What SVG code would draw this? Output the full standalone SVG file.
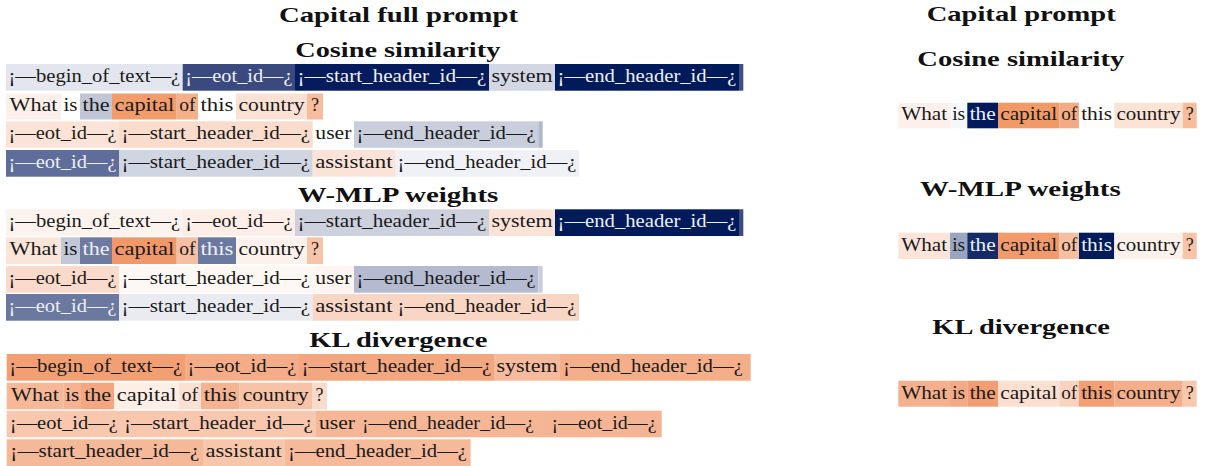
<svg xmlns="http://www.w3.org/2000/svg" width="1206" height="466" viewBox="0 0 1206 466">
<style>
text{font-family:'Liberation Serif',serif;font-size:18px;fill:#1a1a1a;text-anchor:middle}
text.d{fill:#eef0f6}
text.h{font-weight:bold;font-size:22px;text-anchor:start;fill:#111}
</style>
<rect width="1206" height="466" fill="#ffffff"/>
<g id="titles">
<text class="h" x="279" y="21.5" textLength="239" lengthAdjust="spacingAndGlyphs">Capital full prompt</text>
<text class="h" x="295.3" y="57.3" textLength="205" lengthAdjust="spacingAndGlyphs">Cosine similarity</text>
<text class="h" x="297.7" y="201.7" textLength="200.6" lengthAdjust="spacingAndGlyphs">W-MLP weights</text>
<text class="h" x="309.3" y="346.7" textLength="178" lengthAdjust="spacingAndGlyphs">KL divergence</text>
<text class="h" x="926.7" y="20.7" textLength="189" lengthAdjust="spacingAndGlyphs">Capital prompt</text>
<text class="h" x="917.3" y="65.7" textLength="207" lengthAdjust="spacingAndGlyphs">Cosine similarity</text>
<text class="h" x="920" y="196" textLength="200.7" lengthAdjust="spacingAndGlyphs">W-MLP weights</text>
<text class="h" x="932.3" y="334" textLength="177.7" lengthAdjust="spacingAndGlyphs">KL divergence</text>
</g>

<g id="cos-full">
<g id="c1-begin"><rect x="6" y="64" width="176.7" height="26.7" fill="#e3e6ee"/><text x="94.35" y="82" textLength="171.7" lengthAdjust="spacingAndGlyphs">¡—begin_of_text—¿</text></g>
<g id="c1-eot"><rect x="182.7" y="64" width="112.3" height="26.7" fill="#3a4a7e"/><text class="d" x="238.85" y="82" textLength="107.3" lengthAdjust="spacingAndGlyphs">¡—eot_id—¿</text></g>
<g id="c1-sh"><rect x="295" y="64" width="194" height="26.7" fill="#051b5c"/><text class="d" x="392" y="82" textLength="189" lengthAdjust="spacingAndGlyphs">¡—start_header_id—¿</text></g>
<g id="c1-sys"><rect x="489" y="64" width="66" height="26.7" fill="#d3d7e3"/><text x="522" y="82" textLength="61" lengthAdjust="spacingAndGlyphs">system</text></g>
<g id="c1-eh"><rect x="555" y="64" width="184" height="26.7" fill="#001a5a"/><text class="d" x="647" y="82" textLength="179" lengthAdjust="spacingAndGlyphs">¡—end_header_id—¿</text></g>
<g id="c1-nl"><rect x="739" y="64" width="4.3" height="26.7" fill="#3f4f85"/></g>

<g id="c2-what"><rect x="6" y="93.5" width="55" height="26" fill="#fdf0ea"/><text x="33.5" y="111.3" textLength="48" lengthAdjust="spacingAndGlyphs">What</text></g>
<g id="c2-is"><text x="70.5" y="111.3" textLength="14" lengthAdjust="spacingAndGlyphs">is</text></g>
<g id="c2-the"><rect x="80" y="93.5" width="32" height="26" fill="#c0c6d6"/><text x="96" y="111.3" textLength="27" lengthAdjust="spacingAndGlyphs">the</text></g>
<g id="c2-capital"><rect x="112" y="93.5" width="64.7" height="26" fill="#f09c6c"/><text x="144.35" y="111.3" textLength="59.7" lengthAdjust="spacingAndGlyphs">capital</text></g>
<g id="c2-of"><rect x="176.7" y="93.5" width="21.3" height="26" fill="#f5b08a"/><text x="187.35" y="111.3" textLength="16.3" lengthAdjust="spacingAndGlyphs">of</text></g>
<g id="c2-this"><text x="217" y="111.3" textLength="33" lengthAdjust="spacingAndGlyphs">this</text></g>
<g id="c2-country"><rect x="236" y="93.5" width="71" height="26" fill="#fbe2d5"/><text x="271.5" y="111.3" textLength="66" lengthAdjust="spacingAndGlyphs">country</text></g>
<g id="c2-q"><rect x="307" y="93.5" width="16" height="26" fill="#f6bc9d"/><text x="315" y="111.3">?</text></g>

<g id="c3-eot"><rect x="6" y="121.3" width="113" height="26.5" fill="#fbe3d7"/><text x="62.5" y="139.3" textLength="108" lengthAdjust="spacingAndGlyphs">¡—eot_id—¿</text></g>
<g id="c3-sh"><rect x="119" y="121.3" width="193.7" height="26.5" fill="#fadccc"/><text x="215.85" y="139.3" textLength="188.7" lengthAdjust="spacingAndGlyphs">¡—start_header_id—¿</text></g>
<g id="c3-user"><text x="333.35" y="139.3" textLength="36" lengthAdjust="spacingAndGlyphs">user</text></g>
<g id="c3-eh"><rect x="354" y="121.3" width="184.3" height="26.5" fill="#c9cedc"/><text x="446.15" y="139.3" textLength="179.3" lengthAdjust="spacingAndGlyphs">¡—end_header_id—¿</text></g>
<g id="c3-nl"><rect x="538.3" y="121.3" width="4.4" height="26.5" fill="#b0b8cc"/></g>

<g id="c4-eot"><rect x="6" y="150" width="113" height="26.7" fill="#5e6d99"/><text class="d" x="62.5" y="168" textLength="108" lengthAdjust="spacingAndGlyphs">¡—eot_id—¿</text></g>
<g id="c4-sh"><rect x="119" y="150" width="193.7" height="26.7" fill="#d0d5e2"/><text x="215.85" y="168" textLength="188.7" lengthAdjust="spacingAndGlyphs">¡—start_header_id—¿</text></g>
<g id="c4-asst"><rect x="312.7" y="150" width="82.3" height="26.7" fill="#fbe3d7"/><text x="353.85" y="168" textLength="77.3" lengthAdjust="spacingAndGlyphs">assistant</text></g>
<g id="c4-eh"><rect x="395" y="150" width="184" height="26.7" fill="#f0f1f6"/><text x="487" y="168" textLength="179" lengthAdjust="spacingAndGlyphs">¡—end_header_id—¿</text></g>
</g>

<g id="wmlp-full">
<g id="w1-begin"><rect x="6" y="209.3" width="176.7" height="26.7" fill="#fdf3ee"/><text x="94.35" y="227.3" textLength="171.7" lengthAdjust="spacingAndGlyphs">¡—begin_of_text—¿</text></g>
<g id="w1-eot"><rect x="182.7" y="209.3" width="112.3" height="26.7" fill="#fdefe8"/><text x="238.85" y="227.3" textLength="107.3" lengthAdjust="spacingAndGlyphs">¡—eot_id—¿</text></g>
<g id="w1-sh"><rect x="295" y="209.3" width="194" height="26.7" fill="#cdd1de"/><text x="392" y="227.3" textLength="189" lengthAdjust="spacingAndGlyphs">¡—start_header_id—¿</text></g>
<g id="w1-sys"><rect x="489" y="209.3" width="66" height="26.7" fill="#fbe3d7"/><text x="522" y="227.3" textLength="61" lengthAdjust="spacingAndGlyphs">system</text></g>
<g id="w1-eh"><rect x="555" y="209.3" width="184" height="26.7" fill="#001a5a"/><text class="d" x="647" y="227.3" textLength="179" lengthAdjust="spacingAndGlyphs">¡—end_header_id—¿</text></g>
<g id="w1-nl"><rect x="739" y="209.3" width="4.3" height="26.7" fill="#3b4a80"/></g>

<g id="w2-what"><rect x="6" y="237.3" width="55" height="26.7" fill="#fbe5da"/><text x="33.5" y="255.3" textLength="48" lengthAdjust="spacingAndGlyphs">What</text></g>
<g id="w2-is"><rect x="61" y="237.3" width="19" height="26.7" fill="#c2c8d8"/><text x="70.5" y="255.3" textLength="14" lengthAdjust="spacingAndGlyphs">is</text></g>
<g id="w2-the"><rect x="80" y="237.3" width="32" height="26.7" fill="#6e7aa0"/><text class="d" x="96" y="255.3" textLength="27" lengthAdjust="spacingAndGlyphs">the</text></g>
<g id="w2-capital"><rect x="112" y="237.3" width="64.7" height="26.7" fill="#f0986a"/><text x="144.35" y="255.3" textLength="59.7" lengthAdjust="spacingAndGlyphs">capital</text></g>
<g id="w2-of"><rect x="176.7" y="237.3" width="21.3" height="26.7" fill="#f5bfa3"/><text x="187.35" y="255.3" textLength="16.3" lengthAdjust="spacingAndGlyphs">of</text></g>
<g id="w2-this"><rect x="198" y="237.3" width="38" height="26.7" fill="#6b789f"/><text class="d" x="217" y="255.3" textLength="33" lengthAdjust="spacingAndGlyphs">this</text></g>
<g id="w2-country"><rect x="236" y="237.3" width="71" height="26.7" fill="#fdf1ec"/><text x="271.5" y="255.3" textLength="66" lengthAdjust="spacingAndGlyphs">country</text></g>
<g id="w2-q"><rect x="307" y="237.3" width="16" height="26.7" fill="#f7c4a7"/><text x="315" y="255.3">?</text></g>

<g id="w3-eot"><rect x="6" y="266" width="113" height="26.7" fill="#f9dacb"/><text x="62.5" y="284" textLength="108" lengthAdjust="spacingAndGlyphs">¡—eot_id—¿</text></g>
<g id="w3-sh"><rect x="119" y="266" width="193.7" height="26.7" fill="#fef8f5"/><text x="215.85" y="284" textLength="188.7" lengthAdjust="spacingAndGlyphs">¡—start_header_id—¿</text></g>
<g id="w3-user"><rect x="312.7" y="266" width="41.3" height="26.7" fill="#fef5f1"/><text x="333.35" y="284" textLength="36" lengthAdjust="spacingAndGlyphs">user</text></g>
<g id="w3-eh"><rect x="354" y="266" width="184.3" height="26.7" fill="#b4bbd0"/><text x="446.15" y="284" textLength="179.3" lengthAdjust="spacingAndGlyphs">¡—end_header_id—¿</text></g>
<g id="w3-nl"><rect x="538.3" y="266" width="4.4" height="26.7" fill="#c9cede"/></g>

<g id="w4-eot"><rect x="6" y="294" width="113" height="26.7" fill="#6b789f"/><text class="d" x="62.5" y="312" textLength="108" lengthAdjust="spacingAndGlyphs">¡—eot_id—¿</text></g>
<g id="w4-sh"><rect x="119" y="294" width="193.7" height="26.7" fill="#e9ebf1"/><text x="215.85" y="312" textLength="188.7" lengthAdjust="spacingAndGlyphs">¡—start_header_id—¿</text></g>
<g id="w4-asst"><rect x="312.7" y="294" width="82.3" height="26.7" fill="#f9d6c4"/><text x="353.85" y="312" textLength="77.3" lengthAdjust="spacingAndGlyphs">assistant</text></g>
<g id="w4-eh"><rect x="395" y="294" width="184" height="26.7" fill="#f9d5c3"/><text x="487" y="312" textLength="179" lengthAdjust="spacingAndGlyphs">¡—end_header_id—¿</text></g>
</g>

<g id="kl-full">
<g id="k1-begin"><rect x="6.7" y="354" width="178.3" height="26.7" fill="#f29f74"/><text x="95.85" y="372" textLength="173" lengthAdjust="spacingAndGlyphs">¡—begin_of_text—¿</text></g>
<g id="k1-eot"><rect x="185" y="354" width="114" height="26.7" fill="#f4ad88"/><text x="242" y="372" textLength="109" lengthAdjust="spacingAndGlyphs">¡—eot_id—¿</text></g>
<g id="k1-sh"><rect x="299" y="354" width="195" height="26.7" fill="#f3a781"/><text x="396.5" y="372" textLength="190" lengthAdjust="spacingAndGlyphs">¡—start_header_id—¿</text></g>
<g id="k1-sys"><rect x="494" y="354" width="66" height="26.7" fill="#f6bb9c"/><text x="527" y="372" textLength="61" lengthAdjust="spacingAndGlyphs">system</text></g>
<g id="k1-eh"><rect x="560" y="354" width="190.7" height="26.7" fill="#f4ae89"/><text x="653" y="372" textLength="180" lengthAdjust="spacingAndGlyphs">¡—end_header_id—¿</text></g>

<g id="k2-what"><rect x="6.7" y="382.7" width="56.6" height="26.6" fill="#f6b896"/><text x="35" y="400.7" textLength="48" lengthAdjust="spacingAndGlyphs">What</text></g>
<g id="k2-is"><rect x="63.3" y="382.7" width="17.7" height="26.6" fill="#f5b393"/><text x="72.15" y="400.7" textLength="14" lengthAdjust="spacingAndGlyphs">is</text></g>
<g id="k2-the"><rect x="81" y="382.7" width="33.3" height="26.6" fill="#f3a680"/><text x="97.65" y="400.7" textLength="27" lengthAdjust="spacingAndGlyphs">the</text></g>
<g id="k2-capital"><rect x="114.3" y="382.7" width="64.7" height="26.6" fill="#fdeee6"/><text x="146.65" y="400.7" textLength="59.7" lengthAdjust="spacingAndGlyphs">capital</text></g>
<g id="k2-of"><rect x="179" y="382.7" width="22" height="26.6" fill="#fbe1d4"/><text x="190" y="400.7" textLength="16.3" lengthAdjust="spacingAndGlyphs">of</text></g>
<g id="k2-this"><rect x="201" y="382.7" width="38.3" height="26.6" fill="#f5b391"/><text x="220.15" y="400.7" textLength="33" lengthAdjust="spacingAndGlyphs">this</text></g>
<g id="k2-country"><rect x="239.3" y="382.7" width="72.7" height="26.6" fill="#f7c2a5"/><text x="275.65" y="400.7" textLength="66" lengthAdjust="spacingAndGlyphs">country</text></g>
<g id="k2-q"><rect x="312" y="382.7" width="15" height="26.6" fill="#fadbcb"/><text x="319.5" y="400.7">?</text></g>

<g id="k3-eot"><rect x="6.7" y="410.7" width="114.3" height="26.6" fill="#f8c8ae"/><text x="63.85" y="428.7" textLength="108" lengthAdjust="spacingAndGlyphs">¡—eot_id—¿</text></g>
<g id="k3-sh"><rect x="121" y="410.7" width="195" height="26.6" fill="#f8c7ad"/><text x="218.5" y="428.7" textLength="189" lengthAdjust="spacingAndGlyphs">¡—start_header_id—¿</text></g>
<g id="k3-user"><rect x="316" y="410.7" width="42" height="26.6" fill="#f5b795"/><text x="337" y="428.7" textLength="36" lengthAdjust="spacingAndGlyphs">user</text></g>
<g id="k3-eh"><rect x="358" y="410.7" width="187" height="26.6" fill="#f5b696"/><text x="448" y="428.7" textLength="172" lengthAdjust="spacingAndGlyphs">¡—end_header_id—¿</text></g>
<g id="k3-eot2"><rect x="545" y="410.7" width="116.7" height="26.6" fill="#f5b595"/><text x="604" y="428.7" textLength="105" lengthAdjust="spacingAndGlyphs">¡—eot_id—¿</text></g>

<g id="k4-sh"><rect x="6.7" y="439.3" width="196.3" height="26.7" fill="#f5b898"/><text x="104.85" y="457.3" textLength="189" lengthAdjust="spacingAndGlyphs">¡—start_header_id—¿</text></g>
<g id="k4-asst"><rect x="203" y="439.3" width="81.3" height="26.7" fill="#f8c6ab"/><text x="243.65" y="457.3" textLength="76.3" lengthAdjust="spacingAndGlyphs">assistant</text></g>
<g id="k4-eh"><rect x="284.3" y="439.3" width="186.4" height="26.7" fill="#f6b999"/><text x="377.5" y="457.3" textLength="179" lengthAdjust="spacingAndGlyphs">¡—end_header_id—¿</text></g>
</g>

<g id="cos-short">
<rect x="898.3" y="102.7" width="51.7" height="25.6" fill="#fdf0ea"/><text x="924.15" y="120.3" textLength="46" lengthAdjust="spacingAndGlyphs">What</text>
<rect x="950" y="102.7" width="17.3" height="25.6" fill="#f6f7fa"/><text x="958.65" y="120.3" textLength="13" lengthAdjust="spacingAndGlyphs">is</text>
<rect x="967.3" y="102.7" width="30.7" height="25.6" fill="#00195a"/><text class="d" x="982.65" y="120.3" textLength="26" lengthAdjust="spacingAndGlyphs">the</text>
<rect x="998" y="102.7" width="61.3" height="25.6" fill="#f19a68"/><text x="1028.65" y="120.3" textLength="57" lengthAdjust="spacingAndGlyphs">capital</text>
<rect x="1059.3" y="102.7" width="19.7" height="25.6" fill="#f4ab84"/><text x="1069.15" y="120.3" textLength="16" lengthAdjust="spacingAndGlyphs">of</text>
<rect x="1079" y="102.7" width="35.3" height="25.6" fill="#fffdfc"/><text x="1096.65" y="120.3" textLength="31" lengthAdjust="spacingAndGlyphs">this</text>
<rect x="1114.3" y="102.7" width="68.4" height="25.6" fill="#fbe3d6"/><text x="1148.5" y="120.3" textLength="64" lengthAdjust="spacingAndGlyphs">country</text>
<rect x="1182.7" y="102.7" width="14" height="25.6" fill="#f6bc9c"/><text x="1189.7" y="120.3">?</text>
</g>

<g id="wmlp-short">
<rect x="898.3" y="232.7" width="51.7" height="26.3" fill="#fbe5da"/><text x="924.15" y="250.5" textLength="46" lengthAdjust="spacingAndGlyphs">What</text>
<rect x="950" y="232.7" width="17.3" height="26.3" fill="#9aa5c0"/><text x="958.65" y="250.5" textLength="13" lengthAdjust="spacingAndGlyphs">is</text>
<rect x="967.3" y="232.7" width="30.7" height="26.3" fill="#152b66"/><text class="d" x="982.65" y="250.5" textLength="26" lengthAdjust="spacingAndGlyphs">the</text>
<rect x="998" y="232.7" width="61.3" height="26.3" fill="#f19a6b"/><text x="1028.65" y="250.5" textLength="57" lengthAdjust="spacingAndGlyphs">capital</text>
<rect x="1059.3" y="232.7" width="19.7" height="26.3" fill="#f6bfa1"/><text x="1069.15" y="250.5" textLength="16" lengthAdjust="spacingAndGlyphs">of</text>
<rect x="1079" y="232.7" width="35.3" height="26.3" fill="#001a5a"/><text class="d" x="1096.65" y="250.5" textLength="31" lengthAdjust="spacingAndGlyphs">this</text>
<rect x="1114.3" y="232.7" width="68.4" height="26.3" fill="#fdf1eb"/><text x="1148.5" y="250.5" textLength="64" lengthAdjust="spacingAndGlyphs">country</text>
<rect x="1182.7" y="232.7" width="14" height="26.3" fill="#f7c4a7"/><text x="1189.7" y="250.5">?</text>
</g>

<g id="kl-short">
<rect x="898.3" y="380.7" width="51.7" height="26" fill="#f5b08d"/><text x="924.15" y="398.5" textLength="46" lengthAdjust="spacingAndGlyphs">What</text>
<rect x="950" y="380.7" width="17.3" height="26" fill="#f3aa86"/><text x="958.65" y="398.5" textLength="13" lengthAdjust="spacingAndGlyphs">is</text>
<rect x="967.3" y="380.7" width="30.7" height="26" fill="#f29d73"/><text x="982.65" y="398.5" textLength="26" lengthAdjust="spacingAndGlyphs">the</text>
<rect x="998" y="380.7" width="61.3" height="26" fill="#fbdfd0"/><text x="1028.65" y="398.5" textLength="57" lengthAdjust="spacingAndGlyphs">capital</text>
<rect x="1059.3" y="380.7" width="19.7" height="26" fill="#fad3c0"/><text x="1069.15" y="398.5" textLength="16" lengthAdjust="spacingAndGlyphs">of</text>
<rect x="1079" y="380.7" width="35.3" height="26" fill="#f29f76"/><text x="1096.65" y="398.5" textLength="31" lengthAdjust="spacingAndGlyphs">this</text>
<rect x="1114.3" y="380.7" width="68.4" height="26" fill="#f4ae8a"/><text x="1148.5" y="398.5" textLength="64" lengthAdjust="spacingAndGlyphs">country</text>
<rect x="1182.7" y="380.7" width="14" height="26" fill="#f8c8ae"/><text x="1189.7" y="398.5">?</text>
</g>
</svg>
